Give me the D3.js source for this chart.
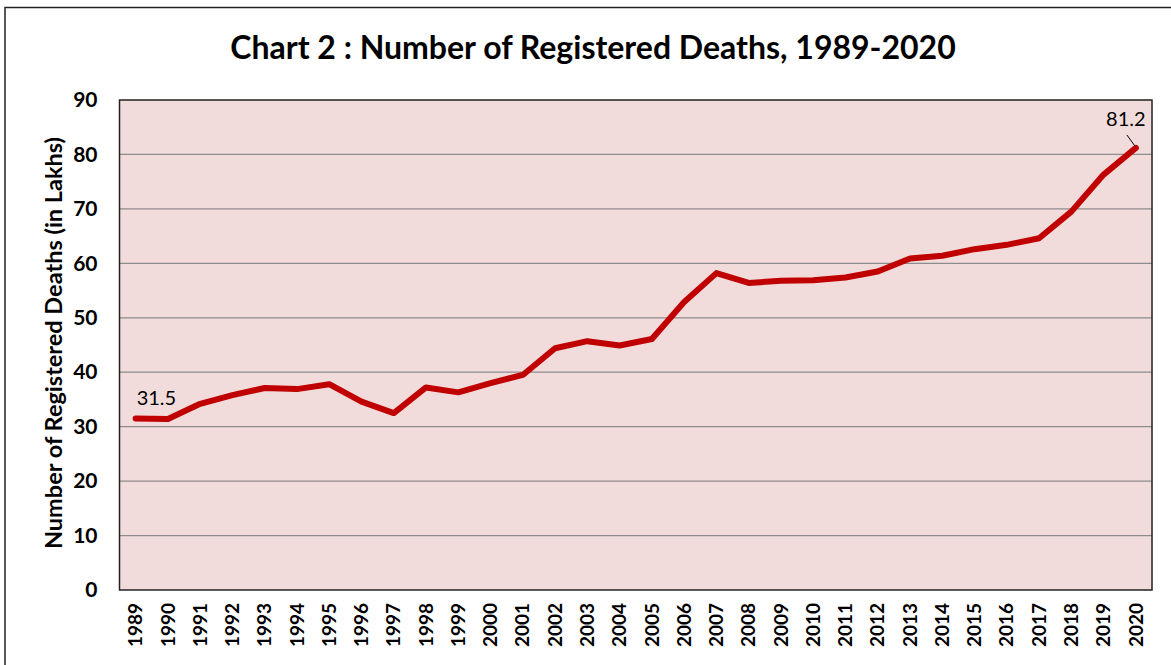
<!DOCTYPE html>
<html><head><meta charset="utf-8">
<script src="https://cdn.jsdelivr.net/npm/d3@7"></script>
<style>body{margin:0;background:#fff;}svg{display:block;}</style>
</head><body>
<svg id="c" width="1171" height="665"></svg>
<script>
const years = [1989,1990,1991,1992,1993,1994,1995,1996,1997,1998,1999,2000,2001,2002,2003,2004,2005,2006,2007,2008,2009,2010,2011,2012,2013,2014,2015,2016,2017,2018,2019,2020];
const deaths = [31.5,31.4,34.2,35.8,37.1,36.9,37.8,34.6,32.5,37.2,36.3,38.0,39.5,44.4,45.7,44.9,46.1,52.9,58.2,56.4,56.8,56.9,57.4,58.5,60.9,61.4,62.6,63.4,64.6,69.5,76.3,81.2];
const yTicks = [0,10,20,30,40,50,60,70,80,90];
const titleText = "Chart 2 : Number of Registered Deaths, 1989-2020";
const yTitle = "Number of Registered Deaths (in Lakhs)";

const font = "Lato, 'Open Sans', sans-serif";
const svg = d3.select("#c");
const m = {l:119.5, r:1152, t:100, b:590};

// outer frame
svg.append("rect").attr("x",5).attr("y",7.5).attr("width",1200).attr("height",700)
  .attr("fill","#fff").attr("stroke","#222").attr("stroke-width",1.5);

const x = d3.scaleBand().domain(years).range([m.l,m.r]).padding(0);
const y = d3.scaleLinear().domain([0,90]).range([m.b,m.t]);

// plot area
svg.append("rect").attr("x",m.l).attr("y",m.t).attr("width",m.r-m.l).attr("height",m.b-m.t)
  .attr("fill","#F2DCDB");

// gridlines
svg.append("g").selectAll("line").data(yTicks.filter(d=>d>0&&d<90)).join("line")
  .attr("x1",m.l).attr("x2",m.r).attr("y1",d=>y(d)).attr("y2",d=>y(d))
  .attr("stroke","#8c8c8c").attr("stroke-width",1.2);

svg.append("rect").attr("x",m.l).attr("y",m.t).attr("width",m.r-m.l).attr("height",m.b-m.t)
  .attr("fill","none").attr("stroke","#222").attr("stroke-width",1.5);

// y axis
const ya = svg.append("g").attr("transform",`translate(${m.l},0)`)
  .call(d3.axisLeft(y).tickValues(yTicks).tickSize(0).tickPadding(22));
ya.select(".domain").remove();
ya.selectAll("text").attr("font-family",font).attr("font-weight","bold").attr("font-size",21).attr("fill","#000");

// x axis
const xa = svg.append("g").attr("transform",`translate(0,${m.b})`)
  .call(d3.axisBottom(x).tickSize(0).tickFormat(d3.format("d")));
xa.select(".domain").remove();
xa.selectAll("text").attr("font-family",font).attr("font-weight","bold").attr("font-size",19).attr("fill","#000")
  .attr("transform","rotate(-90)").attr("text-anchor","end").attr("dy","0.35em").attr("x",-13).attr("y",0);

// line
const cx = d => x(d)+x.bandwidth()/2;
svg.append("path").datum(years.map((yr,i)=>[yr,deaths[i]]))
  .attr("d",d3.line().x(d=>cx(d[0])).y(d=>y(d[1])))
  .attr("fill","none").attr("stroke","#C00000").attr("stroke-width",6)
  .attr("stroke-linejoin","round").attr("stroke-linecap","round");

// data labels
const first = 0, last = years.length-1;
svg.append("text").attr("x",cx(years[first])+1).attr("y",y(deaths[first])-14)
  .attr("font-family",font).attr("font-size",20).attr("fill","#000").text(deaths[first].toFixed(1));
svg.append("text").attr("x",cx(years[last])-10).attr("y",y(deaths[last])-22).attr("text-anchor","middle")
  .attr("font-family",font).attr("font-size",20).attr("fill","#000").text(deaths[last].toFixed(1));
svg.append("line").attr("x1",cx(years[last])-9).attr("y1",y(deaths[last])-13)
  .attr("x2",cx(years[last])-1).attr("y2",y(deaths[last])-2).attr("stroke","#000").attr("stroke-width",1);

// title
svg.append("text").attr("x",593).attr("y",59).attr("text-anchor","middle")
  .attr("font-family",font).attr("font-weight","bold").attr("font-size",32).attr("fill","#000").text(titleText);

// y title
svg.append("text").attr("transform",`translate(62,343) rotate(-90)`).attr("text-anchor","middle")
  .attr("font-family",font).attr("font-weight","bold").attr("font-size",23.5).attr("fill","#000").text(yTitle);
</script>
</body></html>
